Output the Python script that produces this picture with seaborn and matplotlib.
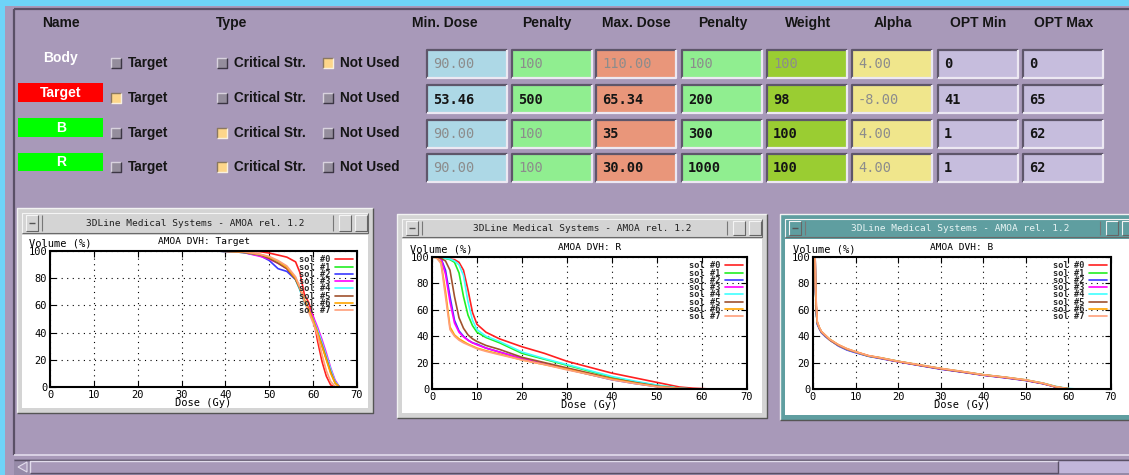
import matplotlib
matplotlib.use("Agg")
import matplotlib.pyplot as plt
from matplotlib.patches import Rectangle, Polygon
import pandas as pd
import seaborn as sns

sns.set_theme(style="white")
plt.rcParams['font.family'] = ['DejaVu Sans Mono']

W, H = 1129, 475

# ---------------- optimisation table ----------------
structures = ["Body", "Target", "B", "R"]
name_colors = [None, "#ff0000", "#00ff00", "#00ff00"]
type_options = ["Target", "Critical Str.", "Not Used"]
type_choice = ["Not Used", "Target", "Critical Str.", "Critical Str."]
headers = ["Min. Dose", "Penalty", "Max. Dose", "Penalty", "Weight", "Alpha", "OPT Min", "OPT Max"]
min_dose = ["90.00", "53.46", "90.00", "90.00"]
min_pen = ["100", "500", "100", "100"]
max_dose = ["110.00", "65.34", "35", "30.00"]
max_pen = ["100", "200", "300", "1000"]
weight = ["100", "98", "100", "100"]
alpha = ["4.00", "-8.00", "4.00", "4.00"]
opt_min = ["0", "41", "1", "1"]
opt_max = ["0", "65", "62", "62"]
active = [[0, 0, 0, 0, 0, 0, 1, 1],
          [1, 1, 1, 1, 1, 0, 1, 1],
          [0, 0, 1, 1, 1, 0, 1, 1],
          [0, 0, 1, 1, 1, 0, 1, 1]]
field_colors = ["#add8e6", "#90ee90", "#e9967a", "#90ee90", "#9acd32", "#f0e68c", "#c6bddd", "#c6bddd"]

# ---------------- dose-volume histograms ----------------
sol_labels = ["sol #0", "sol #1", "sol #2", "sol #3", "sol #4", "sol #5", "sol #6", "sol #7"]
sol_colors = ["#ff2020", "#22ee22", "#3a3aff", "#ff00ff", "#40ffff", "#a0522d", "#ffa500", "#ffa07a"]

target_dose = [0, 38, 44, 48, 50, 52, 54, 56, 57, 58, 59, 60, 61, 62, 63, 64, 65, 66]
target_vol = [
    [100, 100, 100, 99.5, 98.5, 97, 95.5, 92, 84, 68, 62, 52, 34, 19, 8, 1.5, 0, 0],
    [100, 100, 99, 97, 95, 92, 88, 79, 72, 64, 57, 50, 41, 32, 22, 12, 4, 0],
    [100, 100, 99, 96.5, 93, 87, 85, 79, 72, 63, 57, 49, 40, 31, 21, 12, 4, 0],
    [100, 100, 99, 96, 94, 91, 87, 80, 72, 63, 58, 52, 44, 35, 25, 14, 5, 0],
    [100, 100, 99, 97, 95, 92, 88, 79, 71, 62, 56, 50, 42, 33, 23, 13, 4, 0],
    [100, 100, 99, 97, 94.5, 91, 87, 79, 72, 63, 57, 49, 40, 31, 21, 11, 3, 0],
    [100, 100, 99.5, 97.5, 95.5, 92.5, 88, 80, 73, 64, 57, 49, 40, 30, 20, 10, 3, 0],
    [100, 100, 99.5, 97.5, 96, 93, 89, 81, 73, 63, 55, 47, 38, 24, 12, 4, 0.5, 0],
]

r_dose = [0, 1, 2, 3, 4, 5, 6, 7, 8, 9, 10, 12, 15, 20, 25, 30, 35, 40, 45, 50, 55, 58, 62]
r_vol = [
    [100, 100, 99.5, 99, 98.5, 98, 96, 90, 75, 58, 49, 43, 38, 32, 27, 21, 16.5, 12, 8.5, 5, 1.5, 0.6, 0],
    [100, 100, 99.5, 99, 98, 96, 88, 70, 56, 48, 43, 39, 35, 27, 22.5, 18, 13.5, 9, 5.5, 2.8, 0.5, 0, 0],
    [100, 100, 99, 90, 70, 52, 44, 40, 37, 35, 34, 31, 28, 23, 19, 15, 11, 7, 4.2, 1.8, 0.3, 0, 0],
    [100, 100, 98.5, 87, 66, 50, 43, 39.5, 37, 35, 33.5, 31, 28, 23, 19, 15.5, 11.5, 7.5, 4.5, 2, 0.3, 0, 0],
    [100, 100, 99.5, 99, 98.5, 97, 94, 86, 66, 52, 45, 40, 36, 28, 23, 18.5, 14, 9.5, 6, 3, 0.6, 0, 0],
    [100, 100, 99, 97, 90, 70, 54, 46, 41, 38, 36, 33, 30, 24, 20, 16, 12, 8, 5, 2.2, 0.4, 0, 0],
    [100, 99.5, 96, 74, 47, 41, 38, 36, 34, 32.5, 31, 29, 26.5, 22, 18.5, 15, 11, 7.5, 4.5, 1.8, 0.3, 0, 0],
    [100, 99.5, 95, 70, 45, 40, 37, 35, 33.5, 32, 30.5, 28.5, 26, 22, 18.5, 14.5, 11, 7, 4.2, 1.7, 0.3, 0, 0],
]

b_dose = [0.5, 0.6, 0.8, 1, 1.5, 2, 3, 4, 6, 8, 10, 13, 16, 20, 25, 30, 35, 40, 45, 50, 54, 57, 59, 60.5, 62]
b_vol = [
    [100, 75, 58, 50, 46, 43, 40, 37, 33, 30, 28, 25, 23.3, 20.8, 18, 15.3, 13, 10.6, 8.8, 6.6, 4.2, 1.6, 0.6, 0, 0],
    [100, 74, 57, 50, 46, 43, 40, 37.5, 33, 30, 28, 25, 23.5, 21, 18, 15.5, 13, 10.8, 8.8, 6.8, 4.3, 1.7, 0.6, 0, 0],
    [100, 75, 58, 49, 45.5, 42.5, 39.5, 37, 32.5, 29.5, 27.5, 24.8, 23, 20.6, 17.8, 15, 12.8, 10.4, 8.5, 6.4, 4, 1.5, 0.5, 0, 0],
    [100, 76, 59, 50, 46, 43, 40, 37, 33, 30, 28, 25.2, 23.3, 20.8, 18, 15.3, 13, 10.6, 8.7, 6.6, 4.2, 1.6, 0.6, 0, 0],
    [100, 75, 58, 50, 46, 43, 40, 37, 33, 30, 28, 25, 23.4, 21, 18.2, 15.5, 13.2, 10.8, 9, 6.8, 4.5, 2, 0.9, 0.3, 0],
    [100, 75, 58, 50, 46, 43, 40, 37, 33, 30, 28, 25, 23.3, 20.8, 18, 15.3, 13, 10.6, 8.8, 6.6, 4.2, 1.6, 0.6, 0, 0],
    [100, 78, 62, 51, 46.5, 43.5, 40.5, 37.5, 33.5, 30.5, 28.3, 25.3, 23.6, 21, 18.3, 15.6, 13.3, 10.8, 9, 6.9, 4.4, 1.8, 0.7, 0, 0],
    [100, 80, 63, 51, 46.5, 43.5, 40.5, 37.5, 33.5, 30.5, 28.3, 25.3, 23.6, 21, 18.3, 15.6, 13.3, 10.8, 9, 6.9, 4.4, 1.8, 0.7, 0, 0],
]

# ---------------- colours of the interface ----------------
PANEL = "#a899b9"
CYAN = "#6ed4f8"
DARK = "#5a5066"
LIGHT = "#e2dcec"
TEXT = "#151515"
SANS = "Liberation Sans"

fig = plt.figure(figsize=(W / 100, H / 100), dpi=100, facecolor=PANEL)
bg = fig.add_axes([0, 0, 1, 1])
bg.set_xlim(0, W)
bg.set_ylim(H, 0)
bg.axis("off")


def rect(x0, y0, x1, y1, fc, ec="none", lw=0, z=1):
    bg.add_patch(Rectangle((x0, y0), x1 - x0, y1 - y0, facecolor=fc,
                           edgecolor=ec, linewidth=lw, zorder=z))


def line(xs, ys, c, lw=0.8, z=3):
    bg.plot(xs, ys, color=c, lw=lw, zorder=z, solid_capstyle="butt")


def bevel(x0, y0, x1, y1, tl, br, lw=1.4, z=3):
    line([x0, x0, x1], [y1, y0, y0], tl, lw, z)
    line([x0, x1, x1], [y1, y1, y0], br, lw, z)


# background and panel frame
rect(0, 0, W, H, PANEL, z=0)
rect(0, 0, W, 6, CYAN, z=0.5)
rect(0, 0, 5, H, CYAN, z=0.5)
line([14, 14], [9, 455], DARK, 1.6)
line([14, W], [9, 9], DARK, 1.6)
line([14, W], [455, 455], LIGHT, 1.2)

# column headings
header_x = [61, 232]
for txt, x in zip(["Name", "Type"], header_x):
    bg.text(x, 23, txt, family=SANS, fontweight="bold", fontsize=10, color=TEXT,
            ha="center", va="center")
header_cx = [445, 547, 636, 723, 808, 893, 978, 1064]
for txt, x in zip(headers, header_cx):
    bg.text(x, 23, txt, family=SANS, fontweight="bold", fontsize=10, color=TEXT,
            ha="center", va="center")

row_y = [63, 98, 133, 167]
name_boxes = [None, (83, 102), (118, 137), (153, 171)]
check_x = [111, 217, 323]
field_x = [427, 512, 596, 682, 767, 852, 938, 1023]
field_top = [50, 85, 120, 154]
values = [min_dose, min_pen, max_dose, max_pen, weight, alpha, opt_min, opt_max]

for r, name in enumerate(structures):
    y = row_y[r]
    if name_colors[r] is None:
        bg.text(61, 58, name, family=SANS, fontweight="bold", fontsize=10,
                color="white", ha="center", va="center")
    else:
        t, b = name_boxes[r]
        rect(18, t, 103, b, name_colors[r], z=2)
        bg.text(61, (t + b) / 2, name, family=SANS, fontweight="bold", fontsize=10,
                color="white", ha="center", va="center", zorder=4)
    for opt, cx in zip(type_options, check_x):
        on = (type_choice[r] == opt)
        fc = "#fdd68a" if on else "#948d9c"
        rect(cx, y - 5, cx + 10, y + 5, fc, z=2)
        if on:
            bevel(cx, y - 5, cx + 10, y + 5, "#8a7860", "#f8f0e0", lw=1.0)
        else:
            bevel(cx, y - 5, cx + 10, y + 5, "#d8d2de", "#3c3644", lw=1.0)
        bg.text(cx + 17, y, opt, family=SANS, fontweight="bold", fontsize=9.8,
                color=TEXT, ha="left", va="center")
    for c in range(8):
        x0 = field_x[c]
        y0 = field_top[r]
        rect(x0, y0, x0 + 80, y0 + 28, field_colors[c], z=2)
        bevel(x0, y0, x0 + 80, y0 + 28, "#5e566a", "#ece8f2", lw=1.6)
        on = active[r][c]
        bg.text(x0 + 6, y0 + 14.5, values[c][r], fontsize=9.8,
                fontweight="bold" if on else "normal",
                color=TEXT if on else "#8c8c8c", ha="left", va="center", zorder=4)

# bottom scrollbar
rect(14, 459, W, H, "#968aa8", z=1)
line([14, W], [459.5, 459.5], DARK, 1.0)
rect(30, 461, 1058, 473, PANEL, z=2)
bevel(30, 461, 1058, 473, LIGHT, DARK, lw=1.0)
rect(1058, 461, W, 473, "#c2b6da", z=2)
bg.add_patch(Polygon([[18, 467], [27, 462], [27, 472]], closed=True,
                     facecolor=PANEL, edgecolor=LIGHT, lw=0.8, zorder=3))


# plot windows
def window(x0, y0, x1, y1, bar_y1, frame, bar, title_col):
    rect(x0, y0, x1, y1, frame, z=1)
    bevel(x0, y0, x1, y1, "#f2f2f2", "#555555", lw=1.0)
    rect(x0 + 5, y0 + 5, x1 - 5, bar_y1, bar, z=1.5)
    bevel(x0 + 5, y0 + 5, x1 - 5, bar_y1, "#f4f4f4", "#6a6a6a", lw=0.8)
    rect(x0 + 5, bar_y1 + 2, x1 - 5, y1 - 5, "white", z=1.5)
    # title-bar buttons
    by0, by1 = y0 + 7, bar_y1 - 2
    rect(x0 + 9, by0, x0 + 21, by1, bar, z=2)
    bevel(x0 + 9, by0, x0 + 21, by1, "#f4f4f4", "#666666", lw=0.8)
    line([x0 + 12, x0 + 18], [(by0 + by1) / 2, (by0 + by1) / 2], "#555555", 1.0)
    for bx in (x1 - 34, x1 - 18):
        rect(bx, by0, bx + 12, by1, bar, z=2)
        bevel(bx, by0, bx + 12, by1, "#f4f4f4", "#666666", lw=0.8)
    line([x1 - 40, x1 - 40], [by0, by1], "#777777", 0.8)
    line([x0 + 25, x0 + 25], [by0, by1], "#777777", 0.8)
    bg.text((x0 + x1) / 2, (y0 + 5 + bar_y1) / 2 + 0.5,
            "3DLine Medical Systems - AMOA rel. 1.2", fontsize=6.8,
            color=title_col, ha="center", va="center", zorder=4)


window(17, 208, 373, 413, 233, "#d4d4d4", "#d4d4d4", "#202020")
window(397, 214, 767, 418, 237, "#d4d4d4", "#d4d4d4", "#202020")
window(780, 214, 1140, 420, 237, "#5f9ea0", "#5f9ea0", "#e8f4f4")


def dvh_panel(box, dose, curves, title, ylab_x):
    x0, y0, x1, y1 = box
    ax = fig.add_axes([x0 / W, 1 - y1 / H, (x1 - x0) / W, (y1 - y0) / H])
    rows = []
    for lab, vols in zip(sol_labels, curves):
        for d, v in zip(dose, vols):
            rows.append((d, v, lab))
    df = pd.DataFrame(rows, columns=["dose", "volume", "sol"])
    sns.lineplot(data=df, x="dose", y="volume", hue="sol", palette=sol_colors,
                 estimator=None, sort=False, lw=1.2, ax=ax, legend=False)
    ax.set_facecolor("white")
    ax.set_xlim(0, 70)
    ax.set_ylim(0, 100)
    ax.set_xticks(range(0, 71, 10))
    ax.set_yticks(range(0, 101, 20))
    ax.grid(True, color="black", ls=(0, (1, 4)), lw=0.8)
    for s in ax.spines.values():
        s.set_color("black")
        s.set_linewidth(1.5)
    ax.tick_params(direction="in", length=4, width=0.8, top=True, right=True,
                   bottom=True, left=True, labelsize=7.5, pad=2, colors="black")
    ax.set_xlabel("Dose (Gy)", fontsize=7.5, labelpad=-1, color="black")
    ax.set_ylabel("Volume (%)", rotation=0, ha="left", va="center", fontsize=7.5,
                  color="black")
    ax.yaxis.set_label_coords(ylab_x, 1.055)
    ax.set_title(title, fontsize=6.8, pad=5, color="black")
    leg = ax.legend(ax.get_lines()[:8], sol_labels, loc="upper right",
                    fontsize=6.2, labelspacing=-0.2, handlelength=2.0,
                    handletextpad=0.6, markerfirst=False, frameon=False,
                    borderaxespad=0.3, borderpad=0.2)
    for t in leg.get_texts():
        t.set_color("#2a2a2a")
        t.set_fontweight("bold")
    return ax


dvh_panel((50, 251, 357, 387), target_dose, target_vol, "AMOA DVH: Target", -0.07)
dvh_panel((432, 257, 747, 389), r_dose, r_vol, "AMOA DVH: R", -0.07)
dvh_panel((813, 257, 1111, 389), b_dose, b_vol, "AMOA DVH: B", -0.067)

fig.savefig("out.png", dpi=100, facecolor=PANEL)
